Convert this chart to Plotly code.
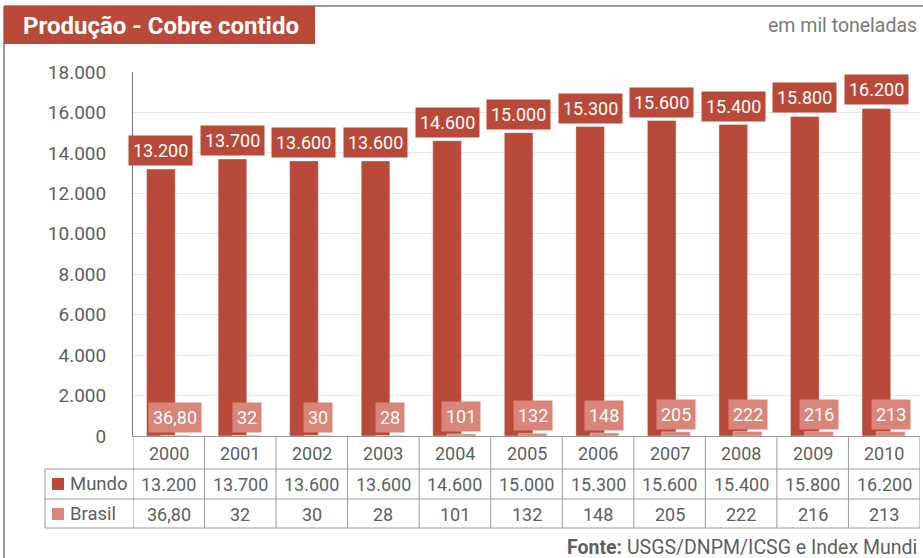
import plotly.graph_objects as go

years = ["2000", "2001", "2002", "2003", "2004", "2005", "2006", "2007", "2008", "2009", "2010"]
mundo = [13200, 13700, 13600, 13600, 14600, 15000, 15300, 15600, 15400, 15800, 16200]
brasil = [36.80, 32, 30, 28, 101, 132, 148, 205, 222, 216, 213]
y_ticks = [0, 2000, 4000, 6000, 8000, 10000, 12000, 14000, 16000, 18000]

RED = "#B94A3A"
PINK = "#D9857A"
GRAY_TXT = "#5F5F5F"
LINE = "#9A9A9A"
FONT = "Roboto"

W, H = 923, 558
L, R, T, B = 133, 3, 72, 122
PW = W - L - R
PH = H - T - B


def fmt_mundo(v):
    return f"{v:,}".replace(",", ".")


def fmt_brasil(v):
    if float(v).is_integer():
        return str(int(v))
    return f"{v:.2f}".replace(".", ",")


def fmt_tick(v):
    return f"{v:,}".replace(",", ".")


def px(xp):
    return (xp - L) / PW


def py(yp):
    return (H - B - yp) / PH


x = list(range(len(years)))

fig = go.Figure()
fig.add_trace(go.Bar(
    x=x, y=mundo, name="Mundo", marker=dict(color=RED, line=dict(color="rgba(255,255,255,0.35)", width=1)),
    offset=-0.31, width=0.40, hoverinfo="skip"))
fig.add_trace(go.Bar(
    x=x, y=brasil, name="Brasil", marker=dict(color=PINK, line=dict(color="rgba(255,255,255,0.35)", width=1)),
    offset=-0.11, width=0.40, hoverinfo="skip"))

ann = []
shapes = []

# bar value labels
for i, (m, b) in enumerate(zip(mundo, brasil)):
    ann.append(dict(x=i - 0.11, y=m, xref="x", yref="y", text=fmt_mundo(m), showarrow=False,
                    xanchor="center", yanchor="bottom", yshift=3, bgcolor=RED, borderpad=4,
                    font=dict(family=FONT, size=18, color="white")))
    ann.append(dict(x=i + 0.09, y=b, xref="x", yref="y", text=fmt_brasil(b), showarrow=False,
                    xanchor="center", yanchor="bottom", yshift=2, bgcolor=PINK, borderpad=4,
                    font=dict(family=FONT, size=18, color="white")))

# data table text
for i, yr in enumerate(years):
    for txt, yp in ((yr, 453), (fmt_mundo(mundo[i]), 484), (fmt_brasil(brasil[i]), 514)):
        ann.append(dict(x=i, y=py(yp), xref="x", yref="paper", text=txt, showarrow=False,
                        xanchor="center", yanchor="middle",
                        font=dict(family=FONT, size=18, color=GRAY_TXT)))

ann.append(dict(x=px(68), y=py(484), xref="paper", yref="paper", text="Mundo", showarrow=False,
                xanchor="left", yanchor="middle", font=dict(family=FONT, size=18.5, color=GRAY_TXT)))
ann.append(dict(x=px(68), y=py(514), xref="paper", yref="paper", text="Brasil", showarrow=False,
                xanchor="left", yanchor="middle", font=dict(family=FONT, size=18.5, color=GRAY_TXT)))
shapes.append(dict(type="rect", xref="paper", yref="paper", x0=px(52), x1=px(64), y0=py(490), y1=py(478),
                   fillcolor=RED, line=dict(width=0)))
shapes.append(dict(type="rect", xref="paper", yref="paper", x0=px(52), x1=px(64), y0=py(520), y1=py(508),
                   fillcolor=PINK, line=dict(width=0)))

# table grid
n = len(years)
for k in range(n + 1):
    shapes.append(dict(type="line", xref="x", yref="paper", x0=k - 0.5, x1=k - 0.5,
                       y0=py(436), y1=py(528), line=dict(color=LINE, width=1)))
for yp in (469, 499, 528):
    shapes.append(dict(type="line", xref="paper", yref="paper", x0=px(45), x1=1,
                       y0=py(yp), y1=py(yp), line=dict(color=LINE, width=1)))
shapes.append(dict(type="line", xref="paper", yref="paper", x0=px(45), x1=px(45),
                   y0=py(469), y1=py(528), line=dict(color=LINE, width=1)))

# frame
shapes.append(dict(type="line", xref="paper", yref="paper", x0=px(4), x1=px(4),
                   y0=py(6), y1=py(560), line=dict(color="#7A7A7A", width=1.5)))
shapes.append(dict(type="line", xref="paper", yref="paper", x0=px(4), x1=px(925),
                   y0=py(6), y1=py(6), line=dict(color="#7A7A7A", width=1.5)))
shapes.append(dict(type="rect", xref="paper", yref="paper", x0=px(4), x1=px(315),
                   y0=py(44), y1=py(6), fillcolor=RED, line=dict(width=0)))

ann.append(dict(x=px(21), y=py(26), xref="paper", yref="paper", text="<b>Produção - Cobre contido</b>",
                showarrow=False, xanchor="left", yanchor="middle",
                font=dict(family=FONT, size=24, color="white")))
ann.append(dict(x=px(919), y=py(25), xref="paper", yref="paper", text="em mil toneladas",
                showarrow=False, xanchor="right", yanchor="middle",
                font=dict(family=FONT, size=19.5, color="#7A7A7A")))
ann.append(dict(x=px(919), y=py(547), xref="paper", yref="paper",
                text="<b>Fonte:</b> USGS/DNPM/ICSG e Index Mundi",
                showarrow=False, xanchor="right", yanchor="middle",
                font=dict(family=FONT, size=19.5, color=GRAY_TXT)))

fig.update_layout(
    width=W, height=H, margin=dict(l=L, r=R, t=T, b=B, pad=0),
    paper_bgcolor="white", plot_bgcolor="white",
    barmode="overlay", showlegend=False,
    annotations=ann, shapes=shapes,
    xaxis=dict(range=[-0.5, n - 0.5], showticklabels=False, ticks="", showgrid=False,
               zeroline=False, showline=True, linecolor=LINE, linewidth=1, fixedrange=True),
    yaxis=dict(range=[0, 18000], tickvals=y_ticks, ticktext=[fmt_tick(v) for v in y_ticks],
               tickfont=dict(family=FONT, size=19, color=GRAY_TXT), ticklabelstandoff=22,
               showgrid=True, gridcolor="#E6E6E6", gridwidth=1, zeroline=False,
               showline=True, linecolor="#7A7A7A", linewidth=1, ticks="", fixedrange=True),
)

fig.write_html("out.html", config={"displayModeBar": False},
               post_script="document.body.style.margin='0';document.body.style.padding='0';")
